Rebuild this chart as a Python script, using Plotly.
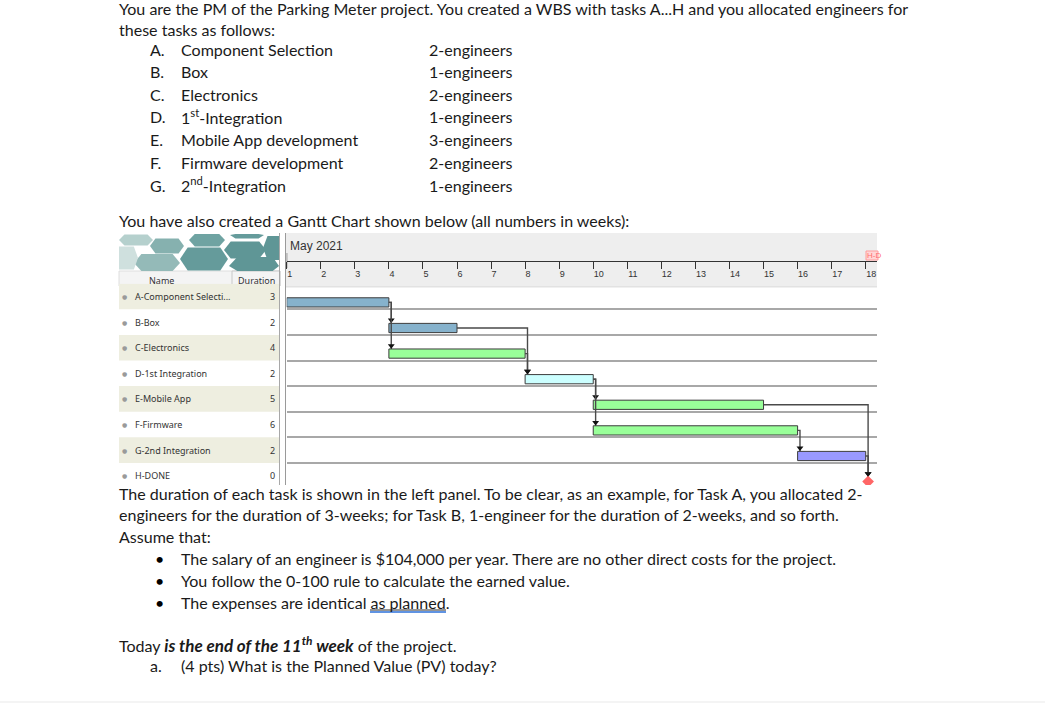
import plotly.graph_objects as go

W = 1045
H = 703

# gantt data (weeks)
task_names = ["A-Component Selecti...", "B-Box", "C-Electronics", "D-1st Integration",
              "E-Mobile App", "F-Firmware", "G-2nd Integration", "H-DONE"]
durations = [3, 2, 4, 2, 5, 6, 2, 0]
starts = [1, 4, 4, 8, 10, 10, 16, 18]
bar_colors = ["#86b2cc", "#86b2cc", "#99ff99", "#ccffff", "#99ff99", "#99ff99", "#9999ff", "#ff6666"]
link_from = [0, 0, 1, 2, 3, 3, 5, 4, 6]
link_to = [1, 2, 3, 3, 4, 5, 6, 7, 7]
week_ticks = list(range(1, 19))

# document text around the chart
intro_lines = ["You are the PM of the Parking Meter project. You created a WBS with tasks A...H and you allocated engineers for",
               "these tasks as follows:"]
intro_y = [8.5, 29]
wbs_letters = ["A.", "B.", "C.", "D.", "E.", "F.", "G."]
wbs_tasks = ["Component Selection", "Box", "Electronics", "1<sup>st</sup>-Integration",
             "Mobile App development", "Firmware development", "2<sup>nd</sup>-Integration"]
wbs_engineers = ["2-engineers", "1-engineers", "2-engineers", "1-engineers",
                 "3-engineers", "2-engineers", "1-engineers"]
wbs_y = [49.5, 71.5, 94.5, 117, 139.5, 162.5, 185.5]
gantt_caption = "You have also created a Gantt Chart shown below (all numbers in weeks):"
after_lines = ["The duration of each task is shown in the left panel. To be clear, as an example, for Task A, you allocated 2-",
               "engineers for the duration of 3-weeks; for Task B, 1-engineer for the duration of 2-weeks, and so forth.",
               "Assume that:"]
after_y = [493.5, 514.5, 536.5]
bullets = ["The salary of an engineer is $104,000 per year. There are no other direct costs for the project.",
           "You follow the 0-100 rule to calculate the earned value.",
           "The expenses are identical as planned."]
bullets_y = [558.5, 580.5, 602.5]

# hexagons of the logo: centre x, centre y, half width, half height, fill
hex_cx = [207, 245, 204, 255, 167, 157, 247, 277, 136, 125]
hex_cy = [240, 250, 259, 266, 246, 263, 235, 248, 240, 258]
hex_hw = [18, 21, 24, 26, 17, 23, 17, 14, 17, 13]
hex_hh = [6.5, 8.5, 11.5, 9, 7.5, 9, 3.5, 12, 5.5, 11.5]
hex_fill = ["#6fa3a2", "#5f9696", "#659b9b", "#5f9696", "#86b1af", "#94bab8", "#659b9b", "#5f9696", "#b5d0cd", "#cfe0de"]

BODY_FONT = "Lato"
BODY_SIZE = 16.05
BAR_OFFSET = 0.05
BAR_WIDTH = 0.36


def px(x):
    return x / W


def py(y):
    return 1 - y / H


def text(x, y, s, size=BODY_SIZE, family=BODY_FONT, color="#1a1a1a", anchor="left", yref="paper"):
    return dict(x=px(x), y=py(y) if yref == "paper" else y, xref="paper", yref=yref, text=s, showarrow=False,
                xanchor=anchor, yanchor="middle", align=anchor, borderpad=0, borderwidth=0,
                font=dict(family=family, size=size, color=color))


def rect(x0, y0, x1, y1, fill, line=None):
    return dict(type="rect", xref="paper", yref="paper", x0=px(x0), x1=px(x1), y0=py(y0), y1=py(y1),
                fillcolor=fill, line=dict(color=line or fill, width=1 if line else 0), layer="below")


fig = go.Figure()

# links first so the bars sit on top
bar_mid = BAR_OFFSET + BAR_WIDTH / 2
for a, b in zip(link_from, link_to):
    finish = starts[a] + durations[a]
    bend = starts[b] + 0.07
    fig.add_trace(go.Scatter(
        x=[finish, bend, bend], y=[a + bar_mid, a + bar_mid, b + BAR_OFFSET],
        mode="lines", line=dict(color="#4a4a4a", width=1.4), hoverinfo="skip", showlegend=False))
    fig.add_trace(go.Scatter(
        x=[bend], y=[b + BAR_OFFSET - 0.13], mode="markers",
        marker=dict(symbol="triangle-down", size=6, color="#111111"), hoverinfo="skip", showlegend=False))

fig.add_trace(go.Bar(
    x=durations[:7], base=starts[:7], y=list(range(7)), orientation="h",
    width=BAR_WIDTH, offset=BAR_OFFSET,
    marker=dict(color=bar_colors[:7], line=dict(color="#3c3c3c", width=1)),
    hoverinfo="skip", showlegend=False))

# milestone
fig.add_trace(go.Scatter(
    x=[starts[7] + 0.07], y=[7 + bar_mid], mode="markers",
    marker=dict(symbol="diamond", size=9, color=bar_colors[7]), hoverinfo="skip", showlegend=False))

shapes = [
    rect(286, 233, 877, 286, "#eeeeee"),
    rect(286, 286, 877, 287.5, "#e2e2e2"),
    rect(119, 234, 280, 271, "#ffffff"),
    rect(119, 271, 280, 286, "#f4f4f4", "#dedede"),
    rect(232, 271, 280, 286, "#f4f4f4", "#c8c8c8"),
    rect(279, 233, 280, 485, "#a8a8a8"),
    rect(285, 233, 286, 485, "#9a9a9a"),
    rect(866, 251, 878, 260, "#ffd6d6", "#ff9c9c"),
    rect(0, 701, W, H, "#f4f4f4"),
]

# teal logo, clipped by hand to its box
for cx, cy, hw, hh, fill in zip(hex_cx, hex_cy, hex_hw, hex_hh, hex_fill):
    pts = [(cx - hw, cy), (cx - hw * 0.68, cy - hh), (cx + hw * 0.68, cy - hh),
           (cx + hw, cy), (cx + hw * 0.68, cy + hh), (cx - hw * 0.68, cy + hh)]
    pts = [(min(max(x, 119), 279), min(max(y, 234), 271)) for x, y in pts]
    path = "M " + " L ".join(f"{px(x):.5f},{py(y):.5f}" for x, y in pts) + " Z"
    shapes.append(dict(type="path", xref="paper", yref="paper", path=path,
                       fillcolor=fill, line=dict(width=0), layer="below"))

# shaded rows of the left panel
for i in range(0, 7, 2):
    shapes.append(dict(type="rect", xref="paper", yref="y", x0=px(119), x1=px(279),
                       y0=i - 0.5, y1=i + 0.5, fillcolor="#eeeee0", line=dict(width=0), layer="below"))

# tall first tick
shapes.append(dict(type="line", xref="x", yref="paper", x0=week_ticks[0], x1=week_ticks[0],
                   y0=py(253), y1=py(268), line=dict(color="#333333", width=1)))

# underlines below "as planned"
shapes.append(dict(type="line", xref="paper", yref="paper", x0=px(370), x1=px(446), y0=py(610), y1=py(610),
                   line=dict(color="#2a2a2a", width=1)))
shapes.append(dict(type="line", xref="paper", yref="paper", x0=px(370), x1=px(446), y0=py(612), y1=py(612),
                   line=dict(color="#2b6fd8", width=1.5)))

notes = []
for line, y in zip(intro_lines, intro_y):
    notes.append(text(119, y, line))
for letter, name, eng, y in zip(wbs_letters, wbs_tasks, wbs_engineers, wbs_y):
    notes.append(text(150, y, letter))
    notes.append(text(181, y - 1 if "<sup>" in name else y, name))
    notes.append(text(429, y, eng))
notes.append(text(119, 220.5, gantt_caption))
for line, y in zip(after_lines, after_y):
    notes.append(text(119, y, line))
for line, y in zip(bullets, bullets_y):
    notes.append(text(155, y, "\u2022", color="#000000"))
    notes.append(text(181, y, line))
notes.append(text(119, 644, "Today <span style=\"font-size:17px\"><b><i>is the end of the 11<sup>th</sup> week</i></b></span> of the project."))
notes.append(text(150, 665.5, "a."))
notes.append(text(181, 665.5, "(4 pts) What is the Planned Value (PV) today?"))

# gantt header + panel text
notes.append(text(290, 246, "May 2021", size=12, family="Liberation Sans", color="#333333"))
notes.append(text(867, 255.5, "H-D", size=8, family="Liberation Sans", color="#ff6f6f"))
notes.append(text(161, 280.5, "Name", size=9, family="Noto Sans", color="#333333", anchor="center"))
notes.append(text(256, 280.5, "Duration", size=9, family="Noto Sans", color="#333333", anchor="center"))
for i, (name, dur) in enumerate(zip(task_names, durations)):
    notes.append(text(124.5, i, "\u25cf", size=6, family="DejaVu Sans", color="#9a9a9a", anchor="center", yref="y"))
    notes.append(text(135, i, name, size=9, family="Noto Sans", color="#333333", yref="y"))
    notes.append(text(274.5, i, str(dur), size=9, family="Noto Sans", color="#333333", anchor="right", yref="y"))

fig.update_layout(
    width=W, height=H, margin=dict(l=0, r=0, t=0, b=0),
    paper_bgcolor="white", plot_bgcolor="rgba(0,0,0,0)",
    shapes=shapes, annotations=notes, barmode="overlay",
    xaxis=dict(
        domain=[px(286.7), px(877)], range=[1, 1 + (877 - 286.7) / 34.06],
        anchor="free", position=py(261), side="bottom",
        tickmode="array", tickvals=week_ticks,
        ticktext=[str(t) if t < 10 else "\u00a0\u00a0" + str(t) for t in week_ticks],
        ticks="outside", ticklen=7, tickwidth=1, tickcolor="#333333",
        showline=True, linecolor="#333333", linewidth=1, showgrid=False, zeroline=False,
        ticklabelshift=3, ticklabelstandoff=-3,
        tickfont=dict(family="Liberation Sans", size=9, color="#333333"),
    ),
    yaxis=dict(
        domain=[py(485), py(283.7)], range=[-0.5 + (485 - 283.7) / 25.6, -0.5],
        tickmode="array", tickvals=[i + 0.5 for i in range(7)], showticklabels=False, ticks="",
        showgrid=True, gridcolor="#a8a8a8", gridwidth=1.5, zeroline=False, showline=False,
    ),
)

fig.write_html("out.html", config={"displayModeBar": False},
               post_script="document.body.style.margin='0';document.body.style.overflow='hidden';")
